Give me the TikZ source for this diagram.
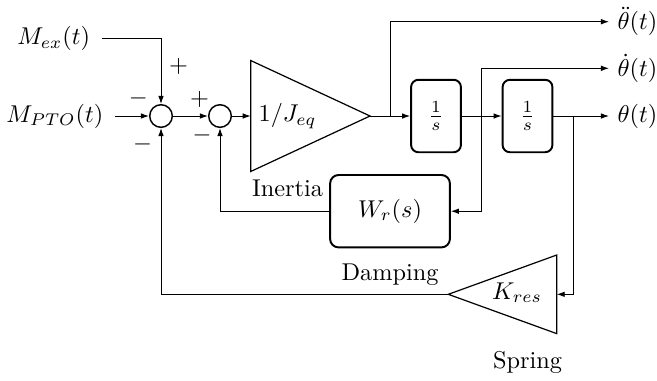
\documentclass[tikz,border=0pt]{standalone}
\usetikzlibrary{arrows.meta}
\begin{document}
\begin{tikzpicture}[x=0.4115pt,y=-0.4115pt,
  >={Latex[length=3.3pt,width=2.3pt]},
  sumnode/.style={circle,draw,semithick,minimum size=9.3pt,inner sep=0pt},
  intbox/.style={draw,thick,rounded corners=3pt,minimum width=20.5pt,minimum height=29.8pt,inner sep=0pt},
  wrbox/.style={draw,thick,rounded corners=3.5pt,minimum width=49.3pt,minimum height=29.8pt,inner sep=0pt},
  gain/.style={draw,line width=0.5pt,line join=miter},
  inlabel/.style={anchor=east,inner xsep=4.6pt},
  outlabel/.style={anchor=west},
  sign/.style={inner sep=0pt},
  caption/.style={anchor=base}
]
\useasboundingbox (0,0) rectangle (657,380);

% summing junctions
\node[sumnode] (s1) at (161,116) {};
\node[sumnode] (s2) at (220,116) {};

% inputs
\node[inlabel] (mex) at (101.7,38.7) {$M_{ex}(t)$};
\node[inlabel] (mpto) at (115,116) {$M_{PTO}(t)$};

% signs
\node[sign] (p1) at (178.5,66.5) {$+$};
\node[sign] (m1) at (138.3,98.7) {$-$};
\node[sign] (m2) at (142.5,144) {$-$};
\node[sign] (p2) at (199.5,99.7) {$+$};
\node[sign] (m3) at (202,135) {$-$};

% inertia gain
\draw[gain] (250.7,60.5) -- (370,116) -- (250.7,171.5) -- cycle;
\coordinate (t1in) at (250.7,116);
\coordinate (t1out) at (370,116);
\node (jeq) at (287.5,116) {$1/J_{eq}$};
\node[caption] (inertia) at (287.5,196.7) {Inertia};

% integrators
\node[intbox] (b1) at (436,116) {$\frac{1}{s}$};
\node[intbox] (b2) at (527.5,116) {$\frac{1}{s}$};

% damping
\node[wrbox] (wr) at (390,211.2) {$W_r(s)$};
\node[caption] (damping) at (390,280.7) {Damping};

% spring gain
\draw[gain] (448.3,294.3) -- (556.7,255) -- (556.7,333.6) -- cycle;
\coordinate (kin) at (556.7,294.3);
\coordinate (kout) at (448.3,294.3);
\node (kres) at (517,292.7) {$K_{res}$};
\node[caption] (spring) at (527.5,368.3) {Spring};

% outputs
\node[outlabel] (ddth) at (609,21.7) {$\ddot{\theta}(t)$};
\node[outlabel] (dth) at (609,68.3) {$\dot{\theta}(t)$};
\node[outlabel] (th) at (609,116) {$\theta(t)$};

% taps
\coordinate (tapa) at (390.7,116);
\coordinate (tapv) at (481.7,116);
\coordinate (tapp) at (573.3,116);

% connectors
\draw[->] (mex.east) -| (s1.north);
\draw[->] (mpto.east) -- (s1.west);
\draw[->] (s1.east) -- (s2.west);
\draw[->] (s2.east) -- (t1in);
\draw[->] (t1out) -- (b1.west);
\draw[->] (b1.east) -- (b2.west);
\draw[->] (b2.east) -- (th.west);
\draw[->] (tapa) |- (ddth.west);
\draw[->] (tapv) |- (dth.west);
\draw[->] (tapv) |- (wr.east);
\draw[->] (tapp) |- (kin);
\draw[->] (wr.west) -| (s2.south);
\draw[->] (kout) -| (s1.south);
\end{tikzpicture}
\end{document}
